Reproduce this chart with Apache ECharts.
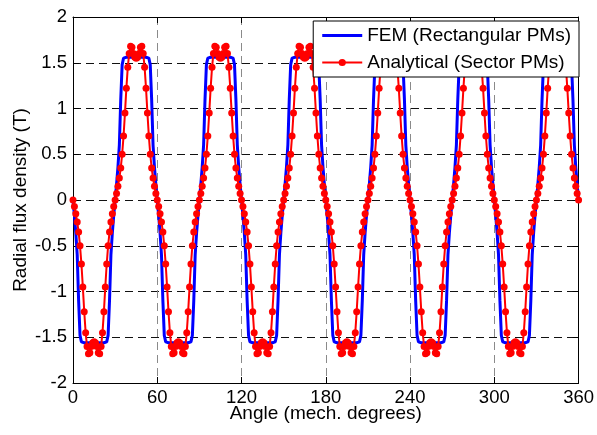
<!DOCTYPE html>
<html>
<head>
<meta charset="utf-8">
<script src="https://cdn.jsdelivr.net/npm/echarts@6/dist/echarts.min.js"></script>
<style>
html,body{margin:0;padding:0;background:#fff;}
#chart{width:597px;height:435px;}
</style>
</head>
<body>
<div id="chart"></div>
<script>
// Angle sampling: one value per mechanical degree, 0..360
const xTicks = [0, 60, 120, 180, 240, 300, 360];
const yTicks = [-2, -1.5, -1, -0.5, 0, 0.5, 1, 1.5, 2];
const seriesNames = ['FEM (Rectangular PMs)', 'Analytical (Sector PMs)'];

// FEM (Rectangular PMs) radial flux density (T), 0..360 deg, 1 deg step
const femValues = [
0,-0.17,-0.36,-0.6,-1.1,-1.48,-1.55,-1.56,-1.56,-1.56,-1.56,-1.56,-1.56,-1.56,-1.56,-1.56,-1.56,-1.56,-1.56,-1.56,-1.56,-1.56,-1.56,-1.56,-1.55,-1.48,-1.1,-0.6,-0.36,-0.17,
0,0.17,0.36,0.6,1.1,1.48,1.55,1.56,1.56,1.56,1.56,1.56,1.56,1.56,1.56,1.56,1.56,1.56,1.56,1.56,1.56,1.56,1.56,1.56,1.55,1.48,1.1,0.6,0.36,0.17,
0,-0.17,-0.36,-0.6,-1.1,-1.48,-1.55,-1.56,-1.56,-1.56,-1.56,-1.56,-1.56,-1.56,-1.56,-1.56,-1.56,-1.56,-1.56,-1.56,-1.56,-1.56,-1.56,-1.56,-1.55,-1.48,-1.1,-0.6,-0.36,-0.17,
0,0.17,0.36,0.6,1.1,1.48,1.55,1.56,1.56,1.56,1.56,1.56,1.56,1.56,1.56,1.56,1.56,1.56,1.56,1.56,1.56,1.56,1.56,1.56,1.55,1.48,1.1,0.6,0.36,0.17,
0,-0.17,-0.36,-0.6,-1.1,-1.48,-1.55,-1.56,-1.56,-1.56,-1.56,-1.56,-1.56,-1.56,-1.56,-1.56,-1.56,-1.56,-1.56,-1.56,-1.56,-1.56,-1.56,-1.56,-1.55,-1.48,-1.1,-0.6,-0.36,-0.17,
0,0.17,0.36,0.6,1.1,1.48,1.55,1.56,1.56,1.56,1.56,1.56,1.56,1.56,1.56,1.56,1.56,1.56,1.56,1.56,1.56,1.56,1.56,1.56,1.55,1.48,1.1,0.6,0.36,0.17,
0,-0.17,-0.36,-0.6,-1.1,-1.48,-1.55,-1.56,-1.56,-1.56,-1.56,-1.56,-1.56,-1.56,-1.56,-1.56,-1.56,-1.56,-1.56,-1.56,-1.56,-1.56,-1.56,-1.56,-1.55,-1.48,-1.1,-0.6,-0.36,-0.17,
0,0.17,0.36,0.6,1.1,1.48,1.55,1.56,1.56,1.56,1.56,1.56,1.56,1.56,1.56,1.56,1.56,1.56,1.56,1.56,1.56,1.56,1.56,1.56,1.55,1.48,1.1,0.6,0.36,0.17,
0,-0.17,-0.36,-0.6,-1.1,-1.48,-1.55,-1.56,-1.56,-1.56,-1.56,-1.56,-1.56,-1.56,-1.56,-1.56,-1.56,-1.56,-1.56,-1.56,-1.56,-1.56,-1.56,-1.56,-1.55,-1.48,-1.1,-0.6,-0.36,-0.17,
0,0.17,0.36,0.6,1.1,1.48,1.55,1.56,1.56,1.56,1.56,1.56,1.56,1.56,1.56,1.56,1.56,1.56,1.56,1.56,1.56,1.56,1.56,1.56,1.55,1.48,1.1,0.6,0.36,0.17,
0,-0.17,-0.36,-0.6,-1.1,-1.48,-1.55,-1.56,-1.56,-1.56,-1.56,-1.56,-1.56,-1.56,-1.56,-1.56,-1.56,-1.56,-1.56,-1.56,-1.56,-1.56,-1.56,-1.56,-1.55,-1.48,-1.1,-0.6,-0.36,-0.17,
0,0.17,0.36,0.6,1.1,1.48,1.55,1.56,1.56,1.56,1.56,1.56,1.56,1.56,1.56,1.56,1.56,1.56,1.56,1.56,1.56,1.56,1.56,1.56,1.55,1.48,1.1,0.6,0.36,0.17,
0
];

// Analytical (Sector PMs) radial flux density (T), 0..360 deg, 1 deg step
const analyticalValues = [
0,-0.07,-0.15,-0.24,-0.35,-0.5,-0.7,-0.95,-1.22,-1.45,-1.6,-1.68,-1.67,-1.6,-1.56,-1.55,-1.56,-1.6,-1.67,-1.68,-1.6,-1.45,-1.22,-0.95,-0.7,-0.5,-0.35,-0.24,-0.15,-0.07,
0,0.07,0.15,0.24,0.35,0.5,0.7,0.95,1.22,1.45,1.6,1.68,1.67,1.6,1.56,1.55,1.56,1.6,1.67,1.68,1.6,1.45,1.22,0.95,0.7,0.5,0.35,0.24,0.15,0.07,
0,-0.07,-0.15,-0.24,-0.35,-0.5,-0.7,-0.95,-1.22,-1.45,-1.6,-1.68,-1.67,-1.6,-1.56,-1.55,-1.56,-1.6,-1.67,-1.68,-1.6,-1.45,-1.22,-0.95,-0.7,-0.5,-0.35,-0.24,-0.15,-0.07,
0,0.07,0.15,0.24,0.35,0.5,0.7,0.95,1.22,1.45,1.6,1.68,1.67,1.6,1.56,1.55,1.56,1.6,1.67,1.68,1.6,1.45,1.22,0.95,0.7,0.5,0.35,0.24,0.15,0.07,
0,-0.07,-0.15,-0.24,-0.35,-0.5,-0.7,-0.95,-1.22,-1.45,-1.6,-1.68,-1.67,-1.6,-1.56,-1.55,-1.56,-1.6,-1.67,-1.68,-1.6,-1.45,-1.22,-0.95,-0.7,-0.5,-0.35,-0.24,-0.15,-0.07,
0,0.07,0.15,0.24,0.35,0.5,0.7,0.95,1.22,1.45,1.6,1.68,1.67,1.6,1.56,1.55,1.56,1.6,1.67,1.68,1.6,1.45,1.22,0.95,0.7,0.5,0.35,0.24,0.15,0.07,
0,-0.07,-0.15,-0.24,-0.35,-0.5,-0.7,-0.95,-1.22,-1.45,-1.6,-1.68,-1.67,-1.6,-1.56,-1.55,-1.56,-1.6,-1.67,-1.68,-1.6,-1.45,-1.22,-0.95,-0.7,-0.5,-0.35,-0.24,-0.15,-0.07,
0,0.07,0.15,0.24,0.35,0.5,0.7,0.95,1.22,1.45,1.6,1.68,1.67,1.6,1.56,1.55,1.56,1.6,1.67,1.68,1.6,1.45,1.22,0.95,0.7,0.5,0.35,0.24,0.15,0.07,
0,-0.07,-0.15,-0.24,-0.35,-0.5,-0.7,-0.95,-1.22,-1.45,-1.6,-1.68,-1.67,-1.6,-1.56,-1.55,-1.56,-1.6,-1.67,-1.68,-1.6,-1.45,-1.22,-0.95,-0.7,-0.5,-0.35,-0.24,-0.15,-0.07,
0,0.07,0.15,0.24,0.35,0.5,0.7,0.95,1.22,1.45,1.6,1.68,1.67,1.6,1.56,1.55,1.56,1.6,1.67,1.68,1.6,1.45,1.22,0.95,0.7,0.5,0.35,0.24,0.15,0.07,
0,-0.07,-0.15,-0.24,-0.35,-0.5,-0.7,-0.95,-1.22,-1.45,-1.6,-1.68,-1.67,-1.6,-1.56,-1.55,-1.56,-1.6,-1.67,-1.68,-1.6,-1.45,-1.22,-0.95,-0.7,-0.5,-0.35,-0.24,-0.15,-0.07,
0,0.07,0.15,0.24,0.35,0.5,0.7,0.95,1.22,1.45,1.6,1.68,1.67,1.6,1.56,1.55,1.56,1.6,1.67,1.68,1.6,1.45,1.22,0.95,0.7,0.5,0.35,0.24,0.15,0.07,
0
];

const FONT = '"Liberation Sans", Arial, sans-serif';
const toPairs = vals => vals.map((v, i) => [i, v]);

const chart = echarts.init(document.getElementById('chart'), null, {renderer: 'canvas'});

const baseX = {
  type: 'value', min: xTicks[0], max: xTicks[xTicks.length - 1], interval: 60
};
const baseY = {
  type: 'value', min: yTicks[0], max: yTicks[yTicks.length - 1], interval: 0.5
};

chart.setOption({
  animation: false,
  backgroundColor: '#fff',
  grid: {left: 73, right: 16, top: 17, bottom: 52, show: false},
  legend: {
    data: [
      {name: seriesNames[0], icon: 'path://M0,0H40V3H0Z'},
      {name: seriesNames[1]}
    ],
    orient: 'vertical',
    right: 18,
    top: 21,
    backgroundColor: '#fff',
    borderColor: '#000',
    borderWidth: 1,
    borderRadius: 0,
    padding: [5, 8, 5, 8],
    itemGap: 8,
    itemWidth: 40,
    itemHeight: 9,
    symbolKeepAspect: true,
    textStyle: {fontFamily: FONT, fontSize: 19, color: '#000'}
  },
  xAxis: [
    Object.assign({}, baseX, {
      position: 'bottom',
      name: 'Angle (mech. degrees)',
      nameLocation: 'middle',
      nameGap: 21,
      nameMoveOverlap: false,
      nameTextStyle: {fontFamily: FONT, fontSize: 19, color: '#000', verticalAlign: 'top'},
      axisLine: {show: true, onZero: false, lineStyle: {color: '#000', width: 1}},
      axisTick: {show: true, inside: true, length: 6, lineStyle: {color: '#000'}},
      axisLabel: {color: '#000', fontFamily: FONT, fontSize: 18.5, margin: 5},
      splitLine: {show: true, lineStyle: {color: '#8a8a8a', width: 1, type: [8, 5]}}
    }),
    Object.assign({}, baseX, {
      position: 'top',
      axisLine: {show: true, onZero: false, lineStyle: {color: '#000', width: 1}},
      axisTick: {show: true, inside: true, length: 6, lineStyle: {color: '#000'}},
      axisLabel: {show: false},
      splitLine: {show: false}
    })
  ],
  yAxis: [
    Object.assign({}, baseY, {
      position: 'left',
      name: 'Radial flux density (T)',
      nameLocation: 'middle',
      nameGap: 43,
      nameMoveOverlap: false,
      nameTextStyle: {fontFamily: FONT, fontSize: 19, color: '#000'},
      axisLine: {show: true, onZero: false, lineStyle: {color: '#000', width: 1}},
      axisTick: {show: true, inside: true, length: 6, lineStyle: {color: '#000'}},
      axisLabel: {color: '#000', fontFamily: FONT, fontSize: 18.5, margin: 6},
      splitLine: {show: true, lineStyle: {color: '#111', width: 1, type: [8, 5]}}
    }),
    Object.assign({}, baseY, {
      position: 'right',
      axisLine: {show: true, onZero: false, lineStyle: {color: '#000', width: 1}},
      axisTick: {show: true, inside: true, length: 6, lineStyle: {color: '#000'}},
      axisLabel: {show: false},
      splitLine: {show: false}
    })
  ],
  series: [
    {
      name: seriesNames[0],
      type: 'line',
      xAxisIndex: 0, yAxisIndex: 0,
      data: toPairs(femValues),
      showSymbol: false,
      symbol: 'none',
      lineStyle: {color: '#0000ff', width: 3},
      itemStyle: {color: '#0000ff'},
      z: 2
    },
    {
      name: seriesNames[1],
      type: 'line',
      xAxisIndex: 0, yAxisIndex: 0,
      data: toPairs(analyticalValues),
      symbol: 'circle',
      symbolSize: 7,
      showAllSymbol: true,
      lineStyle: {color: '#ff0000', width: 2},
      itemStyle: {color: '#ff0000'},
      z: 3
    }
  ]
});
</script>
</body>
</html>
